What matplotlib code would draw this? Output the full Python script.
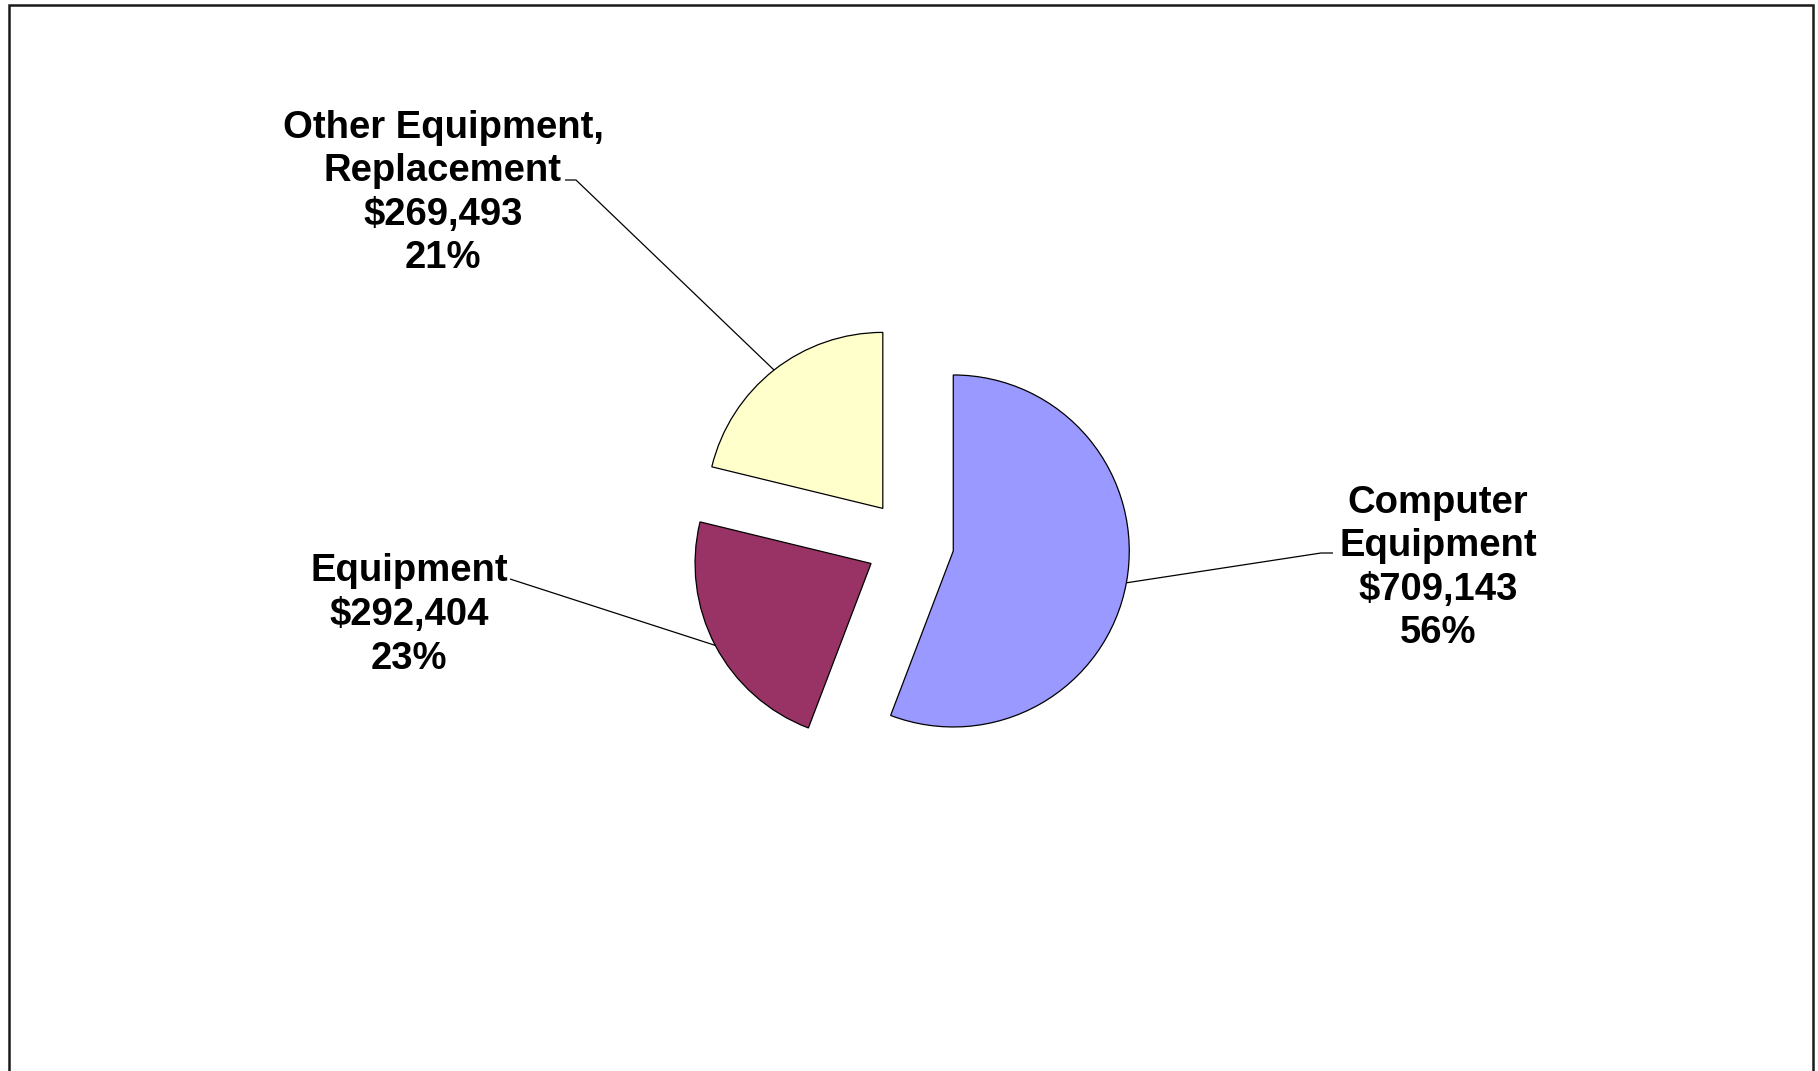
import math
import matplotlib
matplotlib.use("Agg")
import matplotlib.pyplot as plt
from matplotlib.patches import Rectangle

# Capital outlay by category
categories = ["Computer\nEquipment", "Equipment", "Other Equipment,\nReplacement"]
amounts = [709143, 292404, 269493]
colors = ["#9999FF", "#993366", "#FFFFCC"]

W, H = 1818, 1071
DPI = 100
R_PX = 176.0            # pie radius in pixels
CX, CY = 910.0, 543.0   # pie centre (image pixels, y down)

fig = plt.figure(figsize=(W / DPI, H / DPI), dpi=DPI)
fig.patch.set_facecolor("white")
ax = fig.add_axes([0, 0, 1, 1])
ax.axis("off")


def px(x, y):
    """Image pixel (y down) -> data units of the pie axes."""
    return (x - CX) / R_PX, (CY - y) / R_PX


total = sum(amounts)
wedges, _ = ax.pie(
    amounts,
    colors=colors,
    startangle=90,
    counterclock=False,
    explode=[0.25] * len(amounts),
    radius=1.0,
    wedgeprops=dict(edgecolor="black", linewidth=0.9),
    frame=False,
)
ax.set_xlim(-CX / R_PX, (W - CX) / R_PX)
ax.set_ylim(-(H - CY) / R_PX, CY / R_PX)
ax.set_aspect("auto")

label_text = [
    f"{c}\n${a:,.0f}\n{round(100 * a / total):.0f}%"
    for c, a in zip(categories, amounts)
]
label_pos = [(1438, 568), (409, 615), (443, 193)]
# leader anchor next to the label: (elbow start, elbow end)
leader_ends = [((1333, 553), (1321, 553)),
               ((510, 579), (510, 579)),
               ((565, 180), (576, 180))]

for w, txt, (lx, ly), (p0, p1) in zip(wedges, label_text, label_pos, leader_ends):
    tx, ty = px(lx, ly)
    ax.text(tx, ty, txt, ha="center", va="center", multialignment="center",
            fontsize=27.5, fontweight="bold", family="Liberation Sans",
            color="black", linespacing=1.27)
    mid = math.radians((w.theta1 + w.theta2) / 2)
    wx, wy = w.center
    ex, ey = wx + w.r * math.cos(mid), wy + w.r * math.sin(mid)
    a0 = px(*p0)
    a1 = px(*p1)
    ax.plot([a0[0], a1[0], ex], [a0[1], a1[1], ey], color="black",
            linewidth=0.9, solid_capstyle="butt")

# chart area border
fig.patches.append(Rectangle((9 / W, -0.01), (1813 - 9) / W, (H - 5) / H + 0.01,
                             transform=fig.transFigure, fill=False,
                             edgecolor="#1a1a1a", linewidth=1.8))

fig.savefig("out.png", dpi=DPI, facecolor="white")
